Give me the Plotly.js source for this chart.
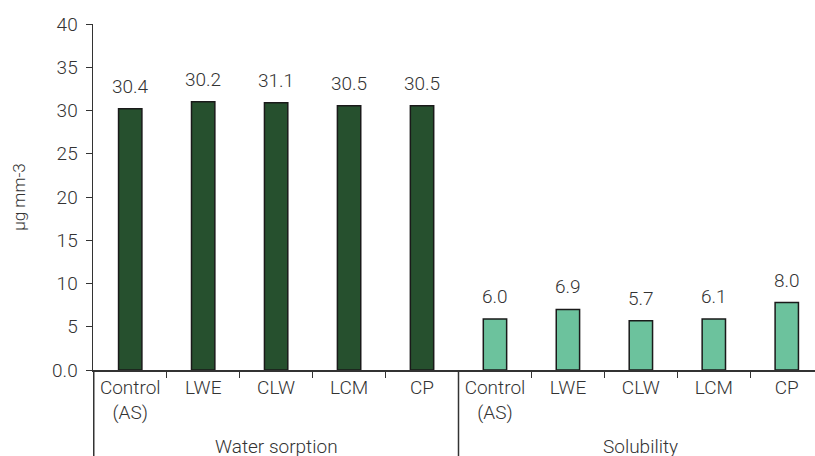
<!DOCTYPE html>
<html>
<head>
<meta charset="utf-8">
<script src="https://cdn.plot.ly/plotly-3.0.1.min.js"></script>
<style>
html,body{margin:0;padding:0;overflow:hidden;background:#fff;width:815px;height:456px;}
#chart{width:840px;height:480px;}
</style>
</head>
<body>
<div id="chart"></div>
<script>
const groups = ["Water sorption", "Solubility"];
const categories = ["Control<br>(AS)", "LWE", "CLW", "LCM", "CP"];
const sorptionValues = [30.2, 31.0, 30.9, 30.55, 30.55];
const sorptionLabels = ["30.4", "30.2", "31.1", "30.5", "30.5"];
const solubilityValues = [5.9, 7.0, 5.7, 5.9, 7.8];
const solubilityLabels = ["6.0", "6.9", "5.7", "6.1", "8.0"];
const yTickVals = [0, 5, 10, 15, 20, 25, 30, 35, 40];
const yTickText = ["0.0", "5", "10", "15", "20", "25", "30", "35", "40"];

const fontFam = "Roboto, 'Noto Sans', sans-serif";
const textColor = "#333333";
const lineColor = "#333333";
const fw = 300;
const fs = 19;

// hidden group keys for the multicategory axis; the visible group names are drawn as annotations
const groupKeys = groups.map((g, gi) => " ".repeat(gi + 1));

function groupX(gi) {
  return [categories.map(() => groupKeys[gi]), categories.slice()];
}

const traces = [
  {
    type: "bar",
    x: groupX(0),
    y: sorptionValues,
    marker: {color: "#26502e", line: {color: "#1a1a1a", width: 1.5}},
    hoverinfo: "none"
  },
  {
    type: "bar",
    x: groupX(1),
    y: solubilityValues,
    marker: {color: "#6cc29d", line: {color: "#1a1a1a", width: 1.5}},
    hoverinfo: "none"
  }
];

const annotations = [];
const allSeries = [[sorptionValues, sorptionLabels], [solubilityValues, solubilityLabels]];
allSeries.forEach(([vals, labs], gi) => {
  vals.forEach((v, i) => {
    annotations.push({x: i + gi * categories.length, y: v, xref: "x", yref: "y", text: labs[i], showarrow: false,
      yanchor: "bottom", yshift: 9, font: {family: fontFam, size: fs, weight: fw, color: textColor}});
  });
  annotations.push({x: gi * categories.length + (categories.length - 1) / 2, y: -0.22, xref: "x", yref: "paper",
    text: groups[gi], showarrow: false, yanchor: "middle",
    font: {family: fontFam, size: fs, weight: fw, color: textColor}});
});

const shapes = [];
for (let gi = 0; gi <= groups.length; gi++) {
  const xb = gi * categories.length - 0.5;
  shapes.push({type: "line", xref: "x", yref: "paper", x0: xb, x1: xb, y0: 0, y1: -0.35,
    line: {color: lineColor, width: 1.5}});
}

const layout = {
  width: 840,
  height: 480,
  margin: {l: 93, r: 16, t: 24, b: 110},
  paper_bgcolor: "#ffffff",
  plot_bgcolor: "#ffffff",
  showlegend: false,
  bargap: 0.68,
  font: {family: fontFam, size: fs, weight: fw, color: textColor},
  xaxis: {
    type: "multicategory",
    showline: true,
    linecolor: lineColor,
    linewidth: 1.5,
    ticks: "outside",
    ticklen: 6,
    tickcolor: lineColor,
    showdividers: false,
    tickfont: {family: fontFam, size: fs, weight: fw, color: textColor},
    showgrid: false,
    zeroline: false
  },
  yaxis: {
    range: [0, 40],
    tickvals: yTickVals,
    ticktext: yTickText,
    showline: true,
    linecolor: lineColor,
    linewidth: 1.5,
    ticks: "outside",
    ticklen: 6,
    tickcolor: lineColor,
    ticklabelstandoff: 4,
    showgrid: false,
    zeroline: false,
    tickfont: {family: fontFam, size: fs, weight: fw, color: textColor},
    title: {text: "μg mm-3", font: {family: fontFam, size: 17, weight: fw, color: textColor}, standoff: 22}
  },
  annotations: annotations,
  shapes: shapes
};

Plotly.newPlot("chart", traces, layout, {displayModeBar: false, staticPlot: true});
</script>
</body>
</html>
